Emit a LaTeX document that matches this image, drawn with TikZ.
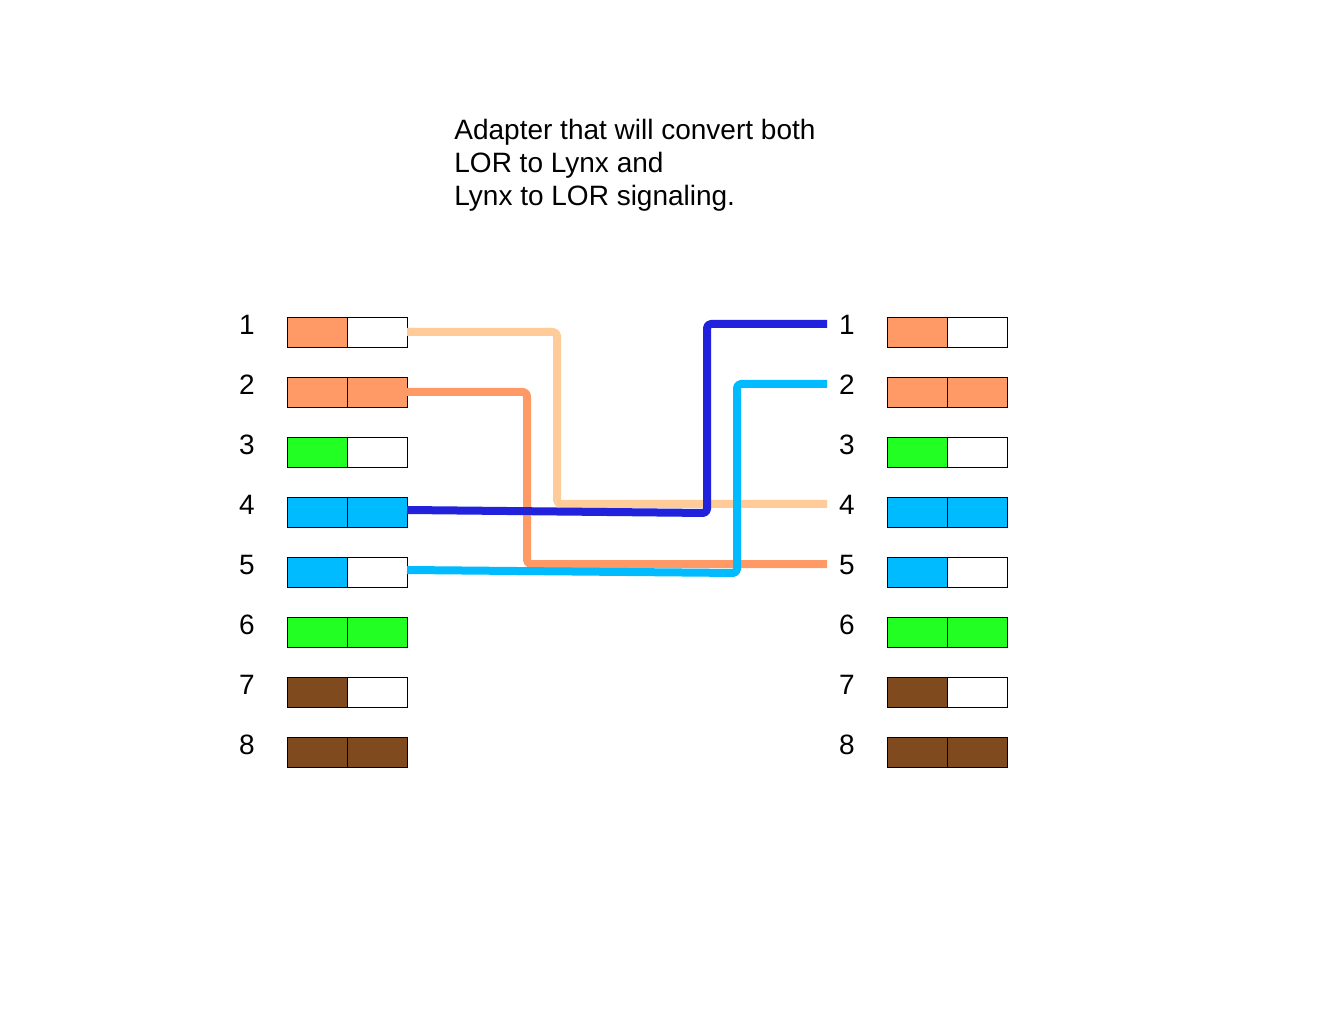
\documentclass[tikz,border=0pt]{standalone}
\usepackage{fontspec}
\setmainfont{Liberation Sans}
\definecolor{pinorange}{HTML}{FF9966}
\definecolor{pingreen}{HTML}{22FF22}
\definecolor{pinblue}{HTML}{00BBFF}
\definecolor{pinbrown}{HTML}{7F4A1E}
\definecolor{wirepeach}{HTML}{FFCC99}
\definecolor{wiresalmon}{HTML}{FF9966}
\definecolor{wirenavy}{HTML}{2222DD}
\definecolor{wirecyan}{HTML}{00BBFF}
\tikzset{
  pinbox/.style={draw=black,line width=0.4pt,minimum width=30pt,minimum height=15pt,inner sep=0pt,outer sep=0pt,anchor=west},
  pinlabel/.style={font=\fontsize{14pt}{16pt}\selectfont,inner sep=0pt},
  wire/.style={line width=4pt,line join=round,rounded corners=2pt}
}
\begin{document}
\begin{tikzpicture}[x=0.5pt,y=-0.5pt]
    \useasboundingbox[fill=white] (0,0) rectangle (1320,1020);
    \node[anchor=north west,align=left,inner sep=0pt,font=\fontsize{14pt}{16.5pt}\selectfont] (title) at (454,119)
        {Adapter that will convert both\\LOR to Lynx and\\Lynx to LOR signaling.};
    % pins: left color, right color
    \foreach \n/\a/\b in {1/pinorange/white,2/pinorange/pinorange,3/pingreen/white,4/pinblue/pinblue,
                          5/pinblue/white,6/pingreen/pingreen,7/pinbrown/white,8/pinbrown/pinbrown} {
        \node[pinlabel] (ln\n) at (247,{325+60*(\n-1)}) {\n};
        \node[pinlabel] (rn\n) at (847,{325+60*(\n-1)}) {\n};
        \node[pinbox,fill=\a] (la\n) at (287,{332+60*(\n-1)}) {};
        \node[pinbox,fill=\b,anchor=west] (lb\n) at (la\n.east) {};
        \node[pinbox,fill=\a] (ra\n) at (887,{332+60*(\n-1)}) {};
        \node[pinbox,fill=\b,anchor=west] (rb\n) at (ra\n.east) {};
    }
    \coordinate (e1) at (827,324);
    \coordinate (e2) at (827,384);
    \coordinate (e4) at (827,504);
    \coordinate (e5) at (827,564);
    % wires
    \draw[wire,wirepeach] (lb1.east) -- (557,332) -- (557,504) -- (e4);
    \draw[wire,wiresalmon] (lb2.east) -- (527,392) -- (527,564) -- (e5);
    \draw[wire,wirenavy] ([yshift=1pt]lb4.east) -- (707,513) -- (707,324) -- (e1);
    \draw[wire,wirecyan] ([yshift=1pt]lb5.east) -- (737,573) -- (737,384) -- (e2);
\end{tikzpicture}
\end{document}
